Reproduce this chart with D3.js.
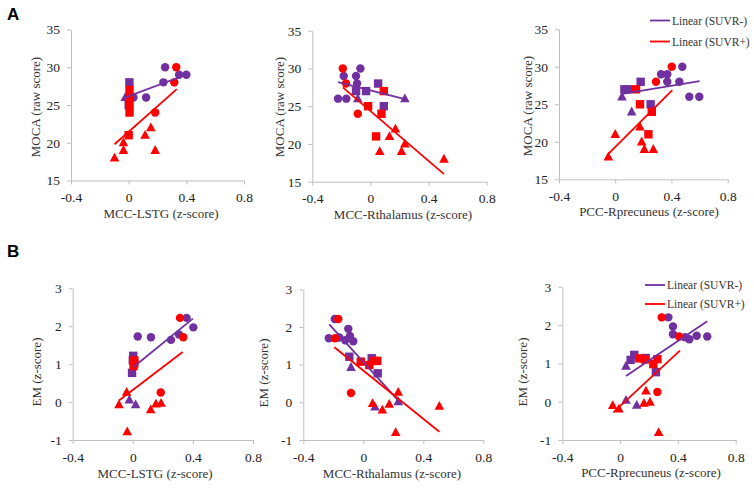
<!DOCTYPE html>
<html><head><meta charset="utf-8">
<script src="https://cdn.jsdelivr.net/npm/d3@7"></script>
<style>
html,body{margin:0;padding:0;background:#fff;}
svg{display:block;}
</style></head>
<body>
<svg id="chart" width="754" height="488"></svg>
<script>
// ---------- DATA ----------
const xTicks = [-0.4, 0, 0.4, 0.8];
const mocaTicks = [15, 20, 25, 30, 35];
const emTicks = [-1, 0, 1, 2, 3];
const xTitles = ["MCC-LSTG (z-score)", "MCC-Rthalamus (z-score)", "PCC-Rprecuneus (z-score)"];
const yTitles = ["MOCA (raw score)", "EM (z-score)"];
const legendLabels = ["Linear (SUVR-)", "Linear (SUVR+)"];
const panelLetters = ["A", "B"];

// points: [x, y, shape]  c=circle, s=square, t=triangle
const A1_neg = [[0.253,30,"c"],[0.241,28,"c"],[0.35,29,"c"],[0.40,29,"c"],[0.121,26,"c"],[0.033,26,"c"],
  [0.005,28,"s"],[0.0,25,"s"],[-0.024,26,"t"]];
const A1_pos = [[0.33,30,"c"],[0.316,28,"c"],[0.184,24,"c"],
  [0.006,27,"s"],[0.006,26,"s"],[0.006,25,"s"],[0.006,24,"s"],[0.0,21,"s"],
  [-0.098,18,"t"],[-0.036,20,"t"],[-0.036,19,"t"],[0.114,21,"t"],[0.154,22,"t"],[0.184,19,"t"]];
const A1_fitNeg = [[-0.036,25.9],[0.392,28.97]];
const A1_fitPos = [[-0.098,19.8],[0.334,27.1]];

const A2_neg = [[-0.069,30,"c"],[-0.184,29,"c"],[-0.099,29,"c"],[-0.092,28,"c"],[-0.223,26,"c"],[-0.166,26,"c"],
  [-0.099,27,"s"],[-0.03,27,"s"],[0.053,28,"s"],[0.092,25,"s"],
  [-0.087,26,"t"],[0.237,26,"t"]];
const A2_pos = [[-0.19,30,"c"],[-0.168,28,"c"],[-0.087,24,"c"],
  [0.092,27,"s"],[-0.016,25,"s"],[0.076,24,"s"],[0.039,21,"s"],
  [0.172,22,"t"],[0.131,21,"t"],[0.237,20,"t"],[0.064,19,"t"],[0.214,19,"t"],[0.506,18,"t"]];
const A2_fitNeg = [[-0.223,28.2],[0.237,25.95]];
const A2_fitPos = [[-0.19,27.5],[0.506,16.0]];

const A3_neg = [[0.477,30,"c"],[0.326,29,"c"],[0.37,29,"c"],[0.37,28,"c"],[0.456,28,"c"],[0.527,26,"c"],[0.598,26,"c"],
  [0.065,27,"s"],[0.09,27,"s"],[0.181,28,"s"],[0.252,25,"s"],
  [0.048,26,"t"],[0.117,24,"t"]];
const A3_pos = [[0.402,30,"c"],[0.29,28,"c"],
  [0.148,27,"s"],[0.176,25,"s"],[0.26,24,"s"],[0.236,21,"s"],
  [0.0,21,"t"],[0.176,22,"t"],[0.188,20,"t"],[0.207,19,"t"],[0.271,19,"t"],[-0.049,18,"t"]];
const A3_fitNeg = [[0.05,26.4],[0.60,28.1]];
const A3_fitPos = [[-0.049,18.4],[0.406,26.9]];

const B1_neg = [[0.033,1.73,"c"],[0.121,1.71,"c"],[0.254,1.64,"c"],[0.307,1.78,"c"],[0.358,2.22,"c"],[0.403,1.97,"c"],
  [0.003,1.22,"s"],[0.0,1.1,"s"],[-0.005,0.77,"s"],
  [-0.023,0.06,"t"],[0.019,-0.07,"t"]];
const B1_pos = [[0.314,2.22,"c"],[0.336,1.71,"c"],[0.186,0.25,"c"],
  [0.01,1.1,"s"],[0.01,1.02,"s"],[0.005,0.95,"s"],
  [-0.041,0.26,"t"],[-0.092,-0.07,"t"],[0.119,-0.2,"t"],[0.154,-0.05,"t"],[0.188,-0.03,"t"],[-0.037,-0.78,"t"]];
const B1_fitNeg = [[0.003,0.92],[0.40,2.2]];
const B1_fitPos = [[-0.092,0.04],[0.332,1.32]];

const B2_neg = [[-0.23,1.70,"c"],[-0.19,2.21,"c"],[-0.16,1.72,"c"],[-0.12,1.65,"c"],[-0.10,1.95,"c"],[-0.089,1.76,"c"],[-0.067,1.62,"c"],
  [-0.093,1.21,"s"],[0.056,1.17,"s"],[0.096,0.77,"s"],
  [-0.082,0.93,"t"],[0.233,0.02,"t"],[0.078,-0.12,"t"]];
const B2_pos = [[-0.167,2.21,"c"],[-0.189,1.70,"c"],[-0.082,0.25,"c"],
  [-0.017,1.08,"s"],[0.04,0.99,"s"],[0.093,1.10,"s"],[0.07,1.1,"s"],
  [0.233,0.27,"t"],[0.062,-0.03,"t"],[0.173,-0.05,"t"],[0.127,-0.2,"t"],[0.507,-0.1,"t"],[0.216,-0.8,"t"]];
const B2_fitNeg = [[-0.227,2.07],[0.24,0.02]];
const B2_fitPos = [[-0.193,1.46],[0.507,-0.78]];

const B3_neg = [[0.334,2.2,"c"],[0.366,1.96,"c"],[0.366,1.76,"c"],[0.449,1.68,"c"],[0.479,1.63,"c"],[0.53,1.72,"c"],[0.603,1.70,"c"],
  [0.098,1.22,"s"],[0.073,1.09,"s"],[0.177,1.14,"s"],[0.248,0.77,"s"],
  [0.041,0.93,"t"],[0.041,0.04,"t"],[0.115,-0.09,"t"]];
const B3_pos = [[0.288,2.2,"c"],[0.408,1.70,"c"],[0.258,0.25,"c"],
  [0.133,1.13,"s"],[0.172,1.1,"s"],[0.23,0.98,"s"],[0.258,1.11,"s"],
  [-0.051,-0.1,"t"],[-0.008,-0.19,"t"],[0.179,0.28,"t"],[0.165,-0.04,"t"],[0.207,-0.01,"t"],[0.267,-0.8,"t"]];
const B3_fitNeg = [[0.041,0.67],[0.603,2.1]];
const B3_fitPos = [[-0.047,-0.28],[0.414,1.33]];

// ---------- STYLE / LAYOUT ----------
const PURPLE = "#7030A0", RED = "#FF0000", AXIS = "#bfbfbf";
const SERIF = "'Liberation Serif','Times New Roman',serif";

const panels = [
  {neg:A1_neg,pos:A1_pos,fn:A1_fitNeg,fp:A1_fitPos,yd:[15,35],yt:mocaTicks,xt:0,ytl:0,
   L:71,R:244,T:29.5,B:180.5,xtx:161,xty:213,ytx:35,yty:107},
  {neg:A2_neg,pos:A2_pos,fn:A2_fitNeg,fp:A2_fitPos,yd:[15,35],yt:mocaTicks,xt:1,ytl:0,
   L:312.3,R:486.7,T:30.7,B:181.7,xtx:403,xty:214,ytx:279,yty:107},
  {neg:A3_neg,pos:A3_pos,fn:A3_fitNeg,fp:A3_fitPos,yd:[15,35],yt:mocaTicks,xt:2,ytl:0,
   L:559,R:727.7,T:29.3,B:179.3,xtx:649,xty:211,ytx:527,yty:106,legend:{x1:650,x2:670,y1:20.5,y2:41.5}},
  {neg:B1_neg,pos:B1_pos,fn:B1_fitNeg,fp:B1_fitPos,yd:[-1,3],yt:emTicks,xt:0,ytl:1,
   L:72.7,R:253,T:288.3,B:440,xtx:155,xty:473,ytx:36,yty:372},
  {neg:B2_neg,pos:B2_pos,fn:B2_fitNeg,fp:B2_fitPos,yd:[-1,3],yt:emTicks,xt:1,ytl:1,
   L:303.3,R:483.3,T:289.3,B:440,xtx:392,xty:473,ytx:263,yty:373},
  {neg:B3_neg,pos:B3_pos,fn:B3_fitNeg,fp:B3_fitPos,yd:[-1,3],yt:emTicks,xt:2,ytl:1,
   L:562.3,R:735.7,T:286.7,B:440,xtx:651,xty:472,ytx:522,yty:372,legend:{x1:645,x2:665,y1:285,y2:304}}
];

const svg = d3.select("#chart");
const fmt = d => d === 0 ? "0" : String(d);

function markerPath(shape) {
  if (shape === "c") return d3.symbol(d3.symbolCircle, 56)();
  if (shape === "s") return "M-4.2,-4.2H4.2V4.2H-4.2Z";
  return "M0,-5.2L4.8,3.6L-4.8,3.6Z";
}

panels.forEach(p => {
  const x = d3.scaleLinear().domain([-0.4, 0.8]).range([p.L, p.R]);
  const y = d3.scaleLinear().domain(p.yd).range([p.B, p.T]);
  const g = svg.append("g");

  const ya = g.append("g").attr("transform", `translate(${p.L},0)`)
    .call(d3.axisLeft(y).tickValues(p.yt).tickFormat(fmt).tickSize(4).tickSizeOuter(0).tickPadding(7));
  const xa = g.append("g").attr("transform", `translate(0,${p.B})`)
    .call(d3.axisBottom(x).tickValues(xTicks).tickFormat(fmt).tickSize(4).tickSizeOuter(0).tickPadding(8));
  [ya, xa].forEach(a => {
    a.select(".domain").attr("stroke", AXIS).attr("stroke-width", 1);
    a.selectAll(".tick line").attr("stroke", AXIS);
    a.selectAll(".tick text").attr("fill", "#222").style("font-family", SERIF).style("font-size", "13.5px");
  });

  g.append("text").attr("x", p.xtx).attr("y", p.xty).attr("dy", "0.35em")
    .attr("text-anchor", "middle").style("font-family", SERIF).style("font-size", "13px").attr("fill", "#333")
    .text(xTitles[p.xt]);
  g.append("text").attr("transform", `translate(${p.ytx},${p.yty}) rotate(-90)`).attr("dy", "0.35em")
    .attr("text-anchor", "middle").style("font-family", SERIF).style("font-size", "13px").attr("fill", "#333")
    .text(yTitles[p.ytl]);

  [[p.neg, PURPLE], [p.pos, RED]].forEach(([pts, col]) => {
    g.selectAll(null).data(pts).enter().append("path")
      .attr("d", d => markerPath(d[2]))
      .attr("transform", d => `translate(${x(d[0])},${y(d[1])})`)
      .attr("fill", col);
  });

  const line = d3.line().x(d => x(d[0])).y(d => y(d[1]));
  g.append("path").datum(p.fn).attr("d", line).attr("stroke", PURPLE).attr("stroke-width", 1.8).attr("fill", "none");
  g.append("path").datum(p.fp).attr("d", line).attr("stroke", RED).attr("stroke-width", 1.8).attr("fill", "none");

  if (p.legend) {
    const lg = p.legend;
    [[lg.y1, PURPLE, legendLabels[0]], [lg.y2, RED, legendLabels[1]]].forEach(([yy, col, lab]) => {
      g.append("line").attr("x1", lg.x1).attr("x2", lg.x2).attr("y1", yy).attr("y2", yy)
        .attr("stroke", col).attr("stroke-width", 1.8);
      g.append("text").attr("x", lg.x2 + 2).attr("y", yy).attr("dy", "0.35em")
        .style("font-family", SERIF).style("font-size", "11.5px").attr("fill", "#333").text(lab);
    });
  }
});

svg.append("text").attr("x", 7).attr("y", 20).text(panelLetters[0])
  .style("font-family", "'Liberation Sans',Arial,sans-serif").style("font-weight", "bold").style("font-size", "17px");
svg.append("text").attr("x", 7).attr("y", 257).text(panelLetters[1])
  .style("font-family", "'Liberation Sans',Arial,sans-serif").style("font-weight", "bold").style("font-size", "17px");
</script>
</body></html>
